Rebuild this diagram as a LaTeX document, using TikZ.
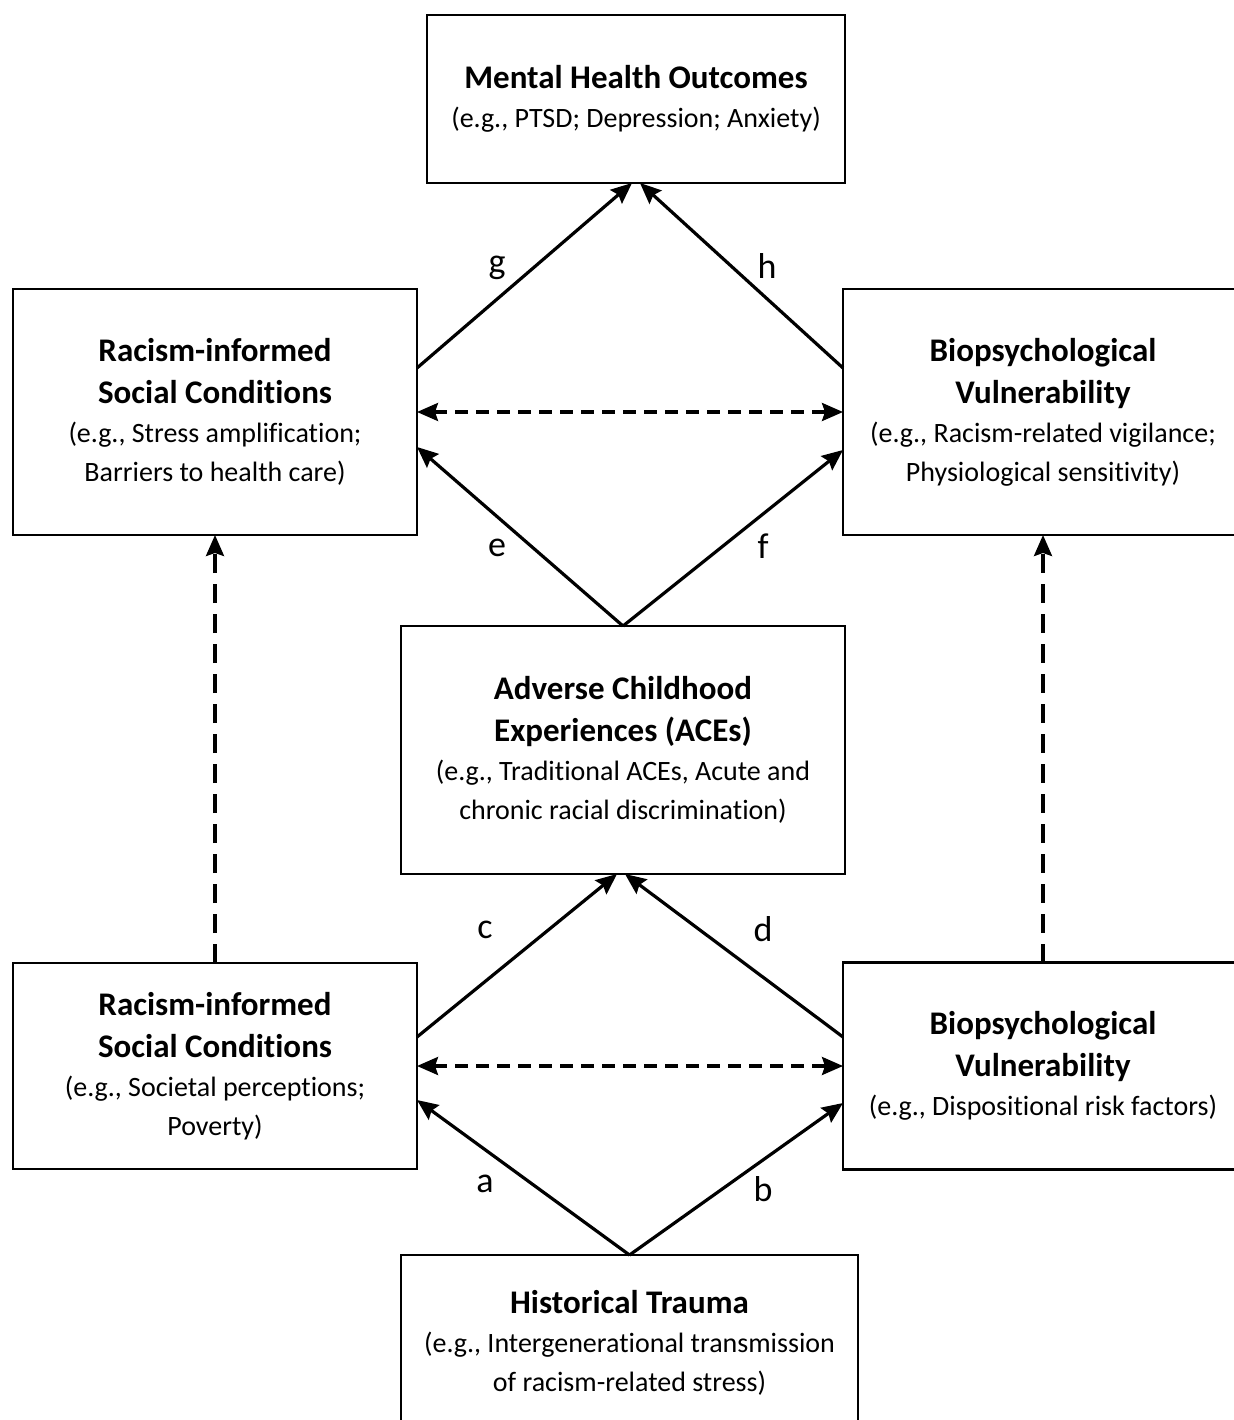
\documentclass[tikz,border=0pt]{standalone}
\usepackage{fontspec}
\setmainfont{Carlito}[RawFeature={-liga}]
\usetikzlibrary{arrows.meta}
\newcommand{\boxhead}[1]{{\fontsize{33}{42}\selectfont\bfseries #1}}
\begin{document}
\begin{tikzpicture}[x=1pt,y=-1pt,
  box/.style={draw, line width=2.8pt, inner sep=0pt, outer sep=0pt,
    align=center, anchor=center, font=\fontsize{28}{39}\selectfont},
  tip/.tip={Stealth[length=21pt,width=18pt,inset=3pt]},
  link/.style={line width=3.2pt, -tip},
  twoway/.style={line width=3.2pt, dash pattern=on 13pt off 8pt, tip-tip},
  oneway/.style={line width=3.2pt, dash pattern=on 19pt off 11pt, -tip},
  lbl/.style={font=\fontsize{36}{40}\selectfont, inner sep=0pt}]
\useasboundingbox (0,0) rectangle (1233,1420);

% boxes
\node[box, minimum width=418pt, minimum height=168pt] (mh) at (636,99)
  {\boxhead{Mental Health Outcomes}\\(e.g., PTSD; Depression; Anxiety)};
\node[box, minimum width=404pt, minimum height=246pt] (rsc1) at (215,412)
  {\boxhead{Racism-informed}\\[3pt]\boxhead{Social Conditions}\\(e.g., Stress amplification;\\Barriers to health care)};
\node[box, minimum width=400pt, minimum height=246pt] (bv1) at (1043,412)
  {\boxhead{Biopsychological}\\[3pt]\boxhead{Vulnerability}\\(e.g., Racism-related vigilance;\\Physiological sensitivity)};
\node[box, minimum width=444pt, minimum height=248pt] (ace) at (623,750)
  {\boxhead{Adverse Childhood}\\[3pt]\boxhead{Experiences (ACEs)}\\(e.g., Traditional ACEs, Acute and\\chronic racial discrimination)};
\node[box, minimum width=404pt, minimum height=206pt] (rsc2) at (215,1066)
  {\boxhead{Racism-informed}\\[3pt]\boxhead{Social Conditions}\\(e.g., Societal perceptions;\\Poverty)};
\node[box, minimum width=400pt, minimum height=207pt] (bv2) at (1043,1066)
  {\boxhead{Biopsychological}\\[3pt]\boxhead{Vulnerability}\\(e.g., Dispositional risk factors)};
\node[box, minimum width=457pt, minimum height=175pt] (ht) at (629.5,1342.5)
  {\boxhead{Historical Trauma}\\(e.g., Intergenerational transmission\\of racism-related stress)};

% top tier
\draw[link] ([yshift=44pt]rsc1.east) -- ([xshift=-4pt]mh.south);
\draw[link] ([yshift=44pt]bv1.west) -- ([xshift=4pt]mh.south);
\draw[twoway] (rsc1.east) -- (bv1.west);

% from ACEs
\draw[link] (ace.north) -- ([yshift=-35pt]rsc1.east);
\draw[link] (ace.north) -- ([yshift=-38pt]bv1.west);

% vertical dashed links
\draw[oneway] (rsc2.north) -- (rsc1.south);
\draw[oneway] (bv2.north) -- (bv1.south);

% to ACEs
\draw[link] ([yshift=29pt]rsc2.east) -- ([xshift=-6pt]ace.south);
\draw[link] ([yshift=29pt]bv2.west) -- ([xshift=2pt]ace.south);
\draw[twoway] (rsc2.east) -- (bv2.west);

% from historical trauma
\draw[link] (ht.north) -- ([yshift=-34pt]rsc2.east);
\draw[link] (ht.north) -- ([yshift=-37pt]bv2.west);

% path labels
\node[lbl] (lg) at (497,268) {g};
\node[lbl] (lh) at (767,266) {h};
\node[lbl] (le) at (497,548) {e};
\node[lbl] (lf) at (763,546) {f};
\node[lbl] (lc) at (485,930) {c};
\node[lbl] (ld) at (763,929) {d};
\node[lbl] (la) at (485,1184) {a};
\node[lbl] (lb) at (763,1189) {b};
\end{tikzpicture}
\end{document}
